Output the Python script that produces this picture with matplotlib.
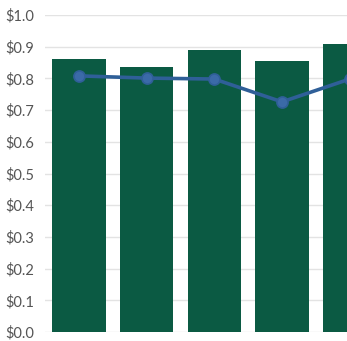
import matplotlib.pyplot as plt
from matplotlib.ticker import FuncFormatter

# per-period values (dollars)
periods = ["P1", "P2", "P3", "P4", "P5"]
bar_values = [0.861, 0.836, 0.890, 0.855, 0.908]
line_values = [0.808, 0.801, 0.798, 0.726, 0.798]

bar_color = "#0b5a43"
line_color = "#2f5f98"
grid_color = "#e3e3e3"

plt.rcParams['font.family'] = ['Lato', 'DejaVu Sans']

fig = plt.figure(figsize=(3.47, 3.41), dpi=100)
ax = fig.add_axes([45 / 347, 9 / 341, 1 - 45 / 347, (332 - 15) / 341])

x = list(range(len(periods)))
ax.bar(x, bar_values, width=0.79, color=bar_color, zorder=2)
ax.plot(x, line_values, color=line_color, linewidth=2.6, marker="o",
        markersize=8, markerfacecolor="#3b6aa8", markeredgecolor=line_color,
        markeredgewidth=1.2, zorder=3, clip_on=False)

ax.set_xlim(-0.5, 3.96)
ax.set_ylim(0, 1.0)
ax.set_yticks([i / 10 for i in range(11)])
ax.yaxis.set_major_formatter(FuncFormatter(lambda v, _: f"${v:.1f}"))
ax.set_xticks([])

ax.grid(axis="y", color=grid_color, linewidth=1, zorder=0)
for side in ax.spines.values():
    side.set_visible(False)
ax.tick_params(axis="y", length=0, pad=8, labelsize=10.5, labelcolor="#555555")

fig.savefig("out.png", dpi=100)
